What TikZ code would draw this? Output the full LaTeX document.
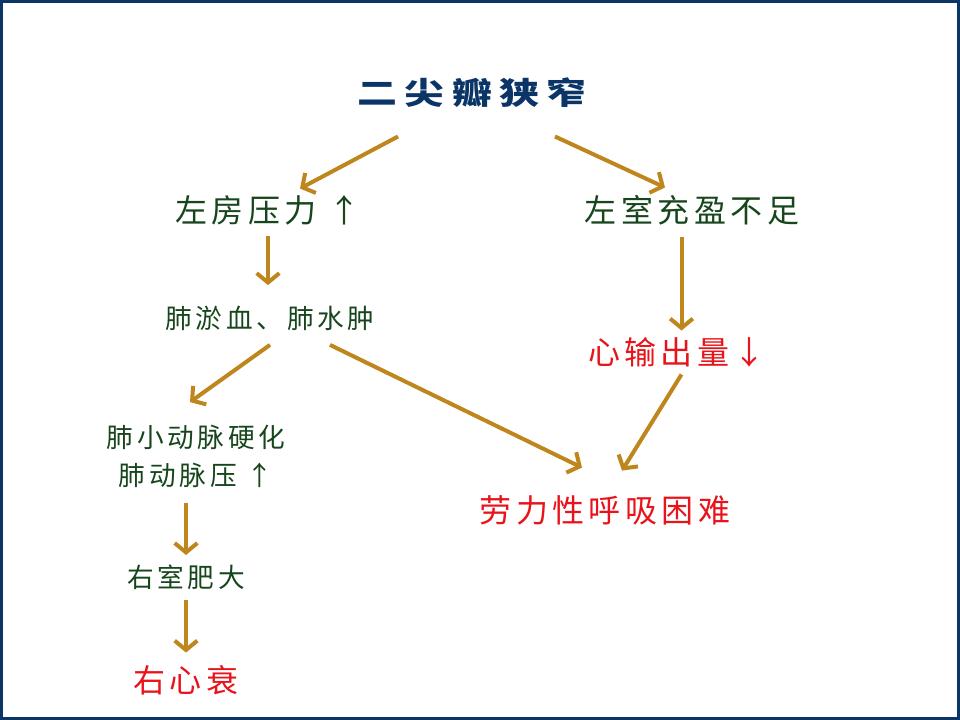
\documentclass[tikz,border=0pt]{standalone}
\usepackage{fontspec}
\usepackage{graphicx}
\usetikzlibrary{arrows.meta,calc}
\newfontfamily\cjk[LetterSpace=14]{Noto Sans CJK SC}
\newfontfamily\cjkhead[LetterSpace=18]{Noto Sans CJK SC}
\definecolor{navy}{HTML}{0B3566}
\definecolor{leaf}{HTML}{17461D}
\definecolor{alarm}{HTML}{E8141B}
\definecolor{ochre}{HTML}{BE861C}
\begin{document}
\begin{tikzpicture}[x=0.75pt,y=-0.75pt,
	every node/.style={inner sep=1pt},
	head/.style={font=\cjkhead\bfseries\fontsize{23}{27}\selectfont,text=navy},
	big/.style={font=\cjk\fontsize{24}{28}\selectfont,text=leaf},
	small/.style={font=\cjk\fontsize{20}{28.5}\selectfont,text=leaf,align=center},
	alert/.style={font=\cjk\fontsize{24}{28}\selectfont,text=alarm},
	flow/.style={draw=ochre,line width=3pt,-{Straight Barb[length=7pt,width=17pt]}}]
\useasboundingbox (0,0) rectangle (960,720);
\draw[navy,line width=2.25pt] (1.5,1.5) rectangle (958.5,718.5);
\node[head] (title) at (472,93) {\scalebox{1.3}[1]{二尖瓣狭窄}};
\node[big] (la) at (268,210) {左房压力 ↑};
\node[big] (lv) at (692,210) {左室充盈不足};
\node[small] (pv) at (270,318) {肺淤血、肺水肿};
\node[alert] (co) at (677,352) {心输出量↓};
\node[small] (pa) at (196,456) {肺小动脉硬化\\肺动脉压 ↑};
\node[alert] (dy) at (605,510) {劳力性呼吸困难};
\node[small] (rv) at (186,577) {右室肥大};
\node[alert] (rh) at (186,680) {右心衰};
\draw[flow] ($(title.south)+(-74,27)$) -- ($(la.north)+(32,-5)$);
\draw[flow] ($(title.south)+(83,27)$) -- ($(lv.north)+(-27,-6)$);
\draw[flow] ($(la.south)+(0,10)$) -- ($(pv.north)+(-2,-19)$);
\draw[flow] ($(lv.south -| co.north)+(4.5,10)$) -- ($(co.north)+(4.5,-5)$);
\draw[flow] ($(pv.south)+(0,13)$) -- ($(pa.north)+(-6,-21)$);
\draw[flow] ($(pv.south)+(60,13)$) -- ($(dy.north)+(-23,-26)$);
\draw[flow] ($(co.south)+(4.5,6)$) -- ($(dy.north)+(17,-23)$);
\draw[flow] ($(pa.south)+(-10,14)$) -- ($(rv.north)+(0,-8)$);
\draw[flow] ($(rv.south)+(0,9)$) -- ($(rh.north)+(0,-11)$);
\end{tikzpicture}
\end{document}
